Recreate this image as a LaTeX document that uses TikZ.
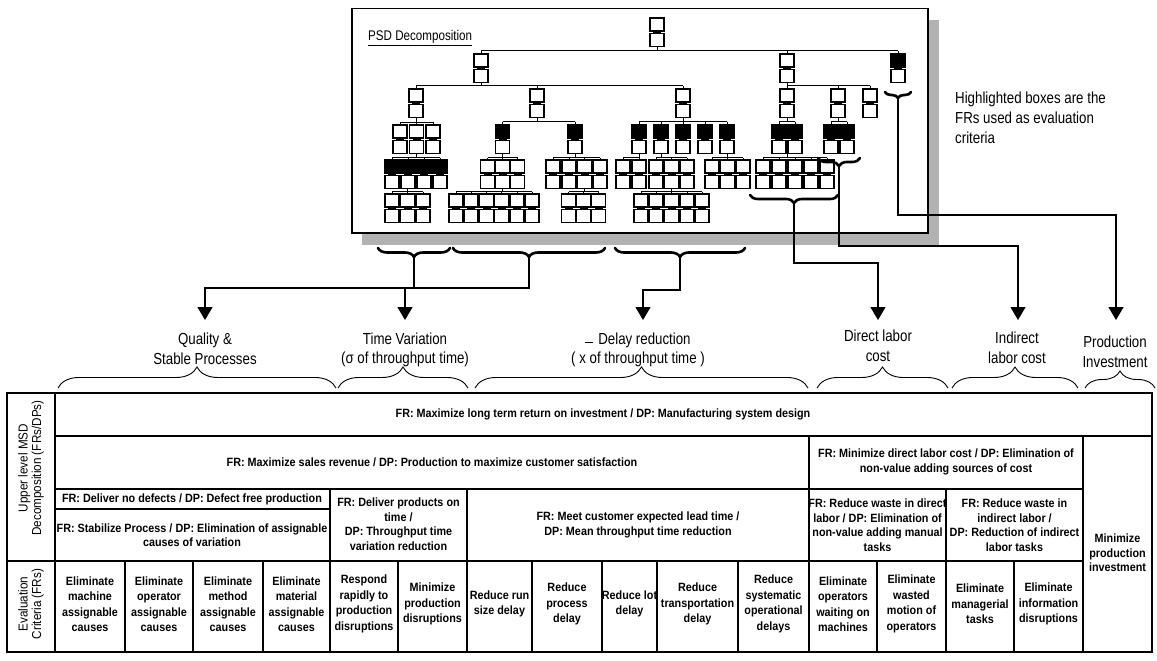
\documentclass[tikz,border=0pt]{standalone}
\usepackage{fontspec}
\setmainfont{Liberation Sans}
\newfontfamily\lblfont[FakeStretch=0.83]{Liberation Sans}
\newfontfamily\cellfont[FakeStretch=0.9]{Liberation Sans}
\usetikzlibrary{decorations.pathreplacing,arrows.meta,calc}

% one FR/DP pair of the PSD tree: centre x, top y, fill of the FR box
\newcommand\psdpair[3]{%
  \filldraw[bx,fill=#3] ({#1-7},{#2}) rectangle ({#1+7},{#2+13});
  \filldraw[bx,fill=white] ({#1-7},{#2+15.5}) rectangle ({#1+7},{#2+28.5});
  \fill ({#1-4},{#2+12.5}) rectangle ({#1+4},{#2+16});
}
% a parent with its children: parent x, parent bottom, bus y, child top,
% bus start, bus end, list of child x/fill
\newcommand\psdgroup[7]{%
  \draw[tl] (#1,#2) -- (#1,#3);
  \draw[tl] (#5,#3) -- (#6,#3);
  \foreach \cx/\cf in {#7}{%
    \draw[tl] (\cx,#3) -- (\cx,#4);
    \psdpair{\cx}{#4}{\cf}
  }
}

\tikzset{
  bx/.style={draw=black,line width=1.1pt},
  tl/.style={line width=1pt},
  cn/.style={line width=1.2pt},
  arr/.style={line width=1.2pt,-{Triangle[width=15pt,length=13pt]}},
  bbrace/.style={decorate,decoration={brace,mirror,amplitude=#1},line width=2.6pt,line cap=round},
  tbrace/.style={decorate,decoration={brace,amplitude=#1},line width=0.9pt},
  grid/.style={line width=1.2pt},
  cell/.style={font=\cellfont\bfseries\fontsize{12}{14.5}\selectfont,align=center,inner sep=0pt},
  evalcell/.style={font=\cellfont\bfseries\fontsize{12}{15.5}\selectfont,align=center,inner sep=0pt},
  lbl/.style={font=\lblfont\fontsize{16}{19.5}\selectfont,align=center,inner sep=0pt},
  side/.style={font=\cellfont\fontsize{13}{13.5}\selectfont,align=center,inner sep=0pt,rotate=90},
}

\begin{document}
\begin{tikzpicture}[x=1pt,y=-1pt]
\useasboundingbox (0,0) rectangle (1157,661);
\fill[white] (0,0) rectangle (1157,661);

% ---------- PSD panel ----------
\fill[gray!60] (362,20) rectangle (939,245);
\filldraw[fill=white,line width=1.3pt] (352,8.5) rectangle (928,233);
\node[anchor=base west,inner sep=0pt,font=\lblfont\fontsize{14}{16}\selectfont] (psdtitle) at (368,41) {\underline{PSD Decomposition}};

\psdpair{657}{18}{white}
\psdgroup{657}{46.5}{51}{54}{481}{898}{481/white,787/white,898/black}
\psdgroup{481}{82.5}{86}{89}{416}{683}{416/white,537/white,683/white}
\psdgroup{787}{82.5}{86}{89}{787}{870}{787/white,838/white,870/white}
% left branch
\psdgroup{416}{117.5}{122}{125}{400}{433}{400/white,416.5/white,433/white}
\psdgroup{416}{153.5}{157.5}{160}{392}{440}{392/black,408/black,424/black,440/black}
\psdgroup{407.5}{188.5}{191.5}{194}{392}{423}{392/white,407.5/white,423/white}
% middle branch
\psdgroup{537}{117.5}{121.5}{125}{502.5}{575}{502.5/black,575/black}
\psdgroup{502.5}{153.5}{157.5}{160}{487.5}{517.5}{487.5/white,502.5/white,517.5/white}
\psdgroup{502.5}{188.5}{191.5}{194}{456}{532}{456/white,471/white,486.5/white,501.5/white,517/white,532/white}
\psdgroup{575}{153.5}{157.5}{160}{553}{600}{553/white,569/white,584.5/white,600/white}
\psdgroup{584.5}{188.5}{191.5}{194}{568.5}{598.5}{568.5/white,583.5/white,598.5/white}
% delay branch
\psdgroup{683}{117.5}{121.5}{125}{639}{727}{639/black,661/black,683/black,705/black,727/black}
\psdgroup{639}{153.5}{157.5}{160}{623}{639}{623/white,639/white}
\psdgroup{661}{153.5}{157.5}{160}{656}{687}{656/white,671.5/white,687/white}
\psdgroup{671.5}{188.5}{191.5}{194}{641}{702}{641/white,656/white,671.5/white,687/white,702/white}
\psdgroup{727}{153.5}{157.5}{160}{712}{743}{712/white,727.5/white,743/white}
% cost branch
\psdgroup{787}{117.5}{121.5}{125}{779}{795}{779/black,795/black}
\psdgroup{787}{153.5}{157.5}{160}{763}{827}{763/white,779/white,795/white,811/white,827/white}
\psdgroup{838}{117.5}{121.5}{125}{831}{847}{831/black,847/black}

% heavy braces grouping the highlighted boxes
\draw[bbrace=6pt] (885,92) -- (911,92);
\draw[bbrace=8pt] (818,158) -- (860,158);
\draw[bbrace=8pt] (750,195) -- (838,195);
\draw[bbrace=9pt] (378,248) -- (450,248);
\draw[bbrace=9pt] (453,248) -- (605,248);
\draw[bbrace=9pt] (615,248) -- (745,248);
\coordinate (tInv) at (898,98);
\coordinate (tInd) at (839,166);
\coordinate (tDir) at (794,203);
\coordinate (tC1) at (414,257);
\coordinate (tC2) at (529,257);
\coordinate (tC3) at (680,257);

\node[anchor=north west,align=left,inner sep=0pt,font=\lblfont\fontsize{16}{20}\selectfont] (note) at (955,92)
  {Highlighted boxes are the\\FRs used as evaluation\\criteria};

% ---------- criteria labels ----------
\node[lbl] (qual) at (205,349) {Quality \&\\Stable Processes};
\node[lbl] (tvar) at (405,350) {Time Variation\\(σ of throughput time)};
\node[lbl] (dly) at (638,350) {\rule[1.5pt]{8pt}{1.1pt}\hspace{5pt}Delay reduction\\( x of throughput time )};
\node[lbl] (dlc) at (878,346) {Direct labor\\cost};
\node[lbl] (ilc) at (1017,348) {Indirect\\labor cost};
\node[lbl] (pinv) at (1115,352) {Production\\Investment};

\coordinate (lv) at (0,320);
\coordinate (hq) at (205,288);
\coordinate (hd) at (643,290);
\coordinate (hdl) at (878,263);
\coordinate (hil) at (1018,246);
\coordinate (hpi) at (1116,215);
\draw[cn] (tC1) -- (tC1 |- hq);
\draw[arr] (tC2) |- (hq) -- (hq |- lv);
\draw[arr] (tvar.north |- hq) -- (tvar.north |- lv);
\draw[arr] (tC3) |- (hd) -- (hd |- lv);
\draw[arr] (tDir) |- (hdl) -- (hdl |- lv);
\draw[arr] (tInd) |- (hil) -- (hil |- lv);
\draw[arr] (tInv) |- (hpi) -- (hpi |- lv);

% thin braces over the table columns
\draw[tbrace=21pt] (58,388) -- (336,388);
\draw[tbrace=21pt] (338,388) -- (468,388);
\draw[tbrace=21pt] (475,388) -- (808,388);
\draw[tbrace=21pt] (817,388) -- (948,388);
\draw[tbrace=21pt] (952,388) -- (1078,388);
\draw[tbrace=17pt] (1085,388) -- (1155,388);

% ---------- table ----------
\draw[grid] (7,393) rectangle (1152,652);
\draw[grid] (55,393) -- (55,652);
\draw[grid] (55,436) -- (1152,436);
\draw[grid] (55,489) -- (1083,489);
\draw[grid] (55,509) -- (330,509);
\draw[grid] (7,561) -- (1083,561);
\foreach \vx in {809,1083} \draw[grid] (\vx,436) -- (\vx,652);
\foreach \vx in {330,467,946} \draw[grid] (\vx,489) -- (\vx,652);
\foreach \vx in {125,193,263,398,532,602,657,738,877,1014} \draw[grid] (\vx,561) -- (\vx,652);

\node[side] (hdup) at (31,468) {Upper level MSD\\Decomposition (FRs/DPs)};
\node[side] (hdev) at (31,604) {Evaluation\\Criteria (FRs)};

\node[cell] (r1) at (603,414) {FR: Maximize long term return on investment / DP: Manufacturing system design};
\node[cell] (r2a) at (432,462) {FR: Maximize sales revenue / DP: Production to maximize customer satisfaction};
\node[cell] (r2b) at (946,462) {FR: Minimize direct labor cost / DP: Elimination of\\non-value adding sources of cost};
\node[cell] (r3a) at (192,499) {FR: Deliver no defects / DP: Defect free production};
\node[cell] (r3b) at (192,535) {FR: Stabilize Process / DP: Elimination of assignable\\causes of variation};
\node[cell] (r3c) at (398.5,524) {FR: Deliver products on\\time /\\DP: Throughput time\\variation reduction};
\node[cell] (r3d) at (638,525) {FR: Meet customer expected lead time /\\DP: Mean throughput time reduction};
\node[cell] (r3e) at (877.5,525) {FR: Reduce waste in direct\\labor / DP: Elimination of\\non-value adding manual\\tasks};
\node[cell] (r3f) at (1014.5,525) {FR: Reduce waste in\\indirect labor /\\DP: Reduction of indirect\\labor tasks};
\node[cell] (inv) at (1117.5,553) {Minimize\\production\\investment};

\node[evalcell] (e1) at (90,604) {Eliminate\\machine\\assignable\\causes};
\node[evalcell] (e2) at (159,604) {Eliminate\\operator\\assignable\\causes};
\node[evalcell] (e3) at (228,604) {Eliminate\\method\\assignable\\causes};
\node[evalcell] (e4) at (296.5,604) {Eliminate\\material\\assignable\\causes};
\node[evalcell] (e5) at (364,604) {Respond\\rapidly to\\production\\disruptions};
\node[evalcell] (e6) at (432.5,604) {Minimize\\production\\disruptions};
\node[evalcell] (e7) at (499.5,604) {Reduce run\\size delay};
\node[evalcell] (e8) at (567,604) {Reduce\\process\\delay};
\node[evalcell] (e9) at (629.5,604) {Reduce lot\\delay};
\node[evalcell] (e10) at (697.5,604) {Reduce\\transportation\\delay};
\node[evalcell] (e11) at (773.5,604) {Reduce\\systematic\\operational\\delays};
\node[evalcell] (e12) at (843,604) {Eliminate\\operators\\waiting on\\machines};
\node[evalcell] (e13) at (911.5,604) {Eliminate\\wasted\\motion of\\operators};
\node[evalcell] (e14) at (980,604) {Eliminate\\managerial\\tasks};
\node[evalcell] (e15) at (1048.5,604) {Eliminate\\information\\disruptions};
\end{tikzpicture}
\end{document}
